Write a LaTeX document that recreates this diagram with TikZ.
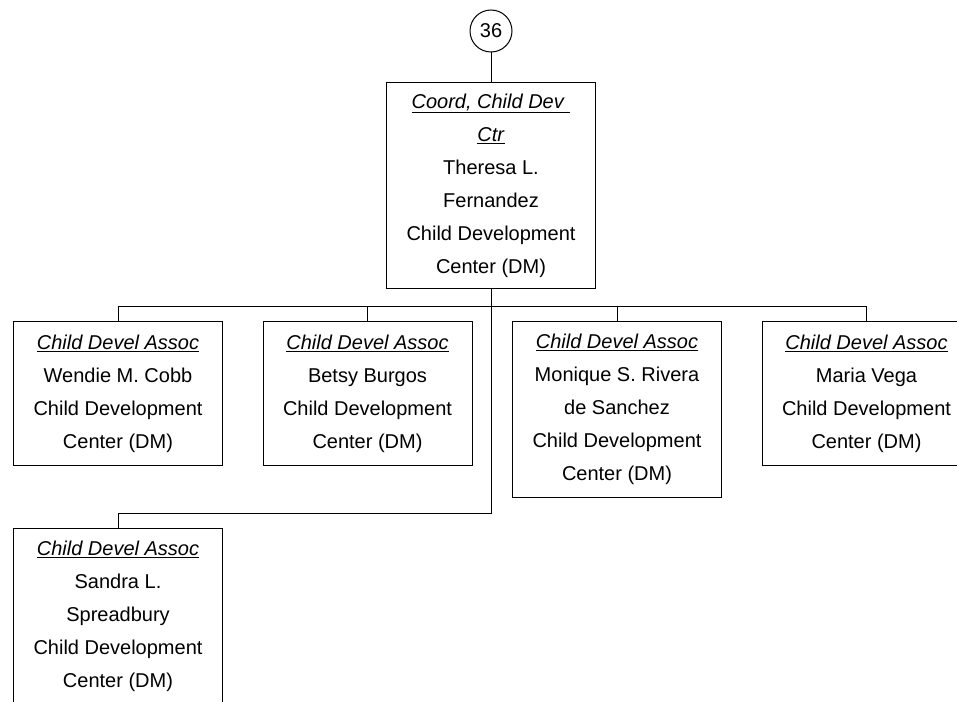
\documentclass[tikz,border=0pt]{standalone}
\usepackage{fontspec}
\setmainfont{Liberation Sans}
\usetikzlibrary{positioning}
\newcommand{\possize}{\fontsize{20}{33}\selectfont}
\newcommand{\postitle}[1]{\underline{\textit{#1}}}

\begin{document}
\begin{tikzpicture}[x=1pt, y=-1pt, line width=1pt, every node/.style={font=\possize},
  posbox/.style={draw, rectangle, minimum width=209pt, inner sep=0pt, align=center},
  badge/.style={draw, circle, minimum size=42pt, inner sep=0pt}]
\clip (0,0) rectangle (957,701);
\node[badge] (page) at (491,31) {36};
\node[posbox, minimum height=206pt, anchor=north] (coord) at (491,82)
  {\postitle{Coord, Child Dev\ }\\\postitle{Ctr}\\Theresa L.\\Fernandez\\Child Development\\Center (DM)};
\node[posbox, minimum height=144pt, anchor=north] (cobb) at (118,321)
  {\postitle{Child Devel Assoc}\\Wendie M. Cobb\\Child Development\\Center (DM)};
\node[posbox, minimum height=144pt, right=39.5pt of cobb.north east, anchor=north west] (burgos)
  {\postitle{Child Devel Assoc}\\Betsy Burgos\\Child Development\\Center (DM)};
\node[posbox, minimum height=176pt, right=39.5pt of burgos.north east, anchor=north west] (rivera)
  {\postitle{Child Devel Assoc}\\Monique S. Rivera\\de Sanchez\\Child Development\\Center (DM)};
\node[posbox, minimum height=144pt, right=39.5pt of rivera.north east, anchor=north west] (vega)
  {\postitle{Child Devel Assoc}\\Maria Vega\\Child Development\\Center (DM)};
\node[posbox, minimum height=176pt, anchor=north] (spreadbury) at (118,528)
  {\postitle{Child Devel Assoc}\\Sandra L.\\Spreadbury\\Child Development\\Center (DM)};
% connectors
\coordinate[below=17pt of coord] (bus);
\draw (page) -- (coord);
\draw (coord.south) -- (bus);
\foreach \kid in {cobb,burgos,rivera,vega}
  \draw (bus) -| (\kid.north);
\draw (bus) |- ([yshift=15pt]spreadbury.north) -- (spreadbury.north);
\end{tikzpicture}
\end{document}
